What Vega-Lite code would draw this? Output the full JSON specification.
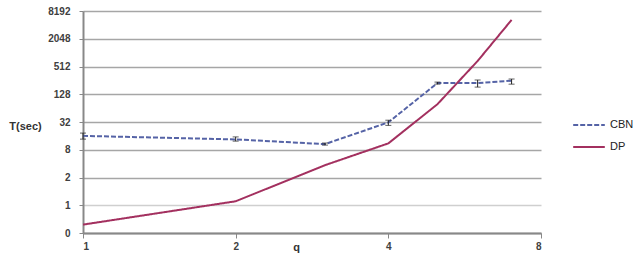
{
  "$schema": "https://vega.github.io/schema/vega-lite/v6.json",
  "width": 458,
  "height": 222,
  "autosize": {"type": "none"},
  "padding": {"left": 83, "top": 11, "right": 99, "bottom": 34},
  "background": "white",
  "config": {
    "view": {"stroke": null},
    "font": "Liberation Sans",
    "legend": {
      "orient": "none",
      "legendX": 489,
      "legendY": 97,
      "title": null,
      "symbolType": "stroke",
      "symbolSize": 1000,
      "symbolStrokeWidth": 2,
      "labelFont": "Liberation Sans",
      "labelFontSize": 11,
      "labelColor": "#222",
      "labelOffset": 4,
      "rowPadding": -2,
      "padding": 0
    }
  },
  "data": {
    "values": [
      {"q": 1, "series": "CBN", "t": 16, "lo": 13.6, "hi": 18.4},
      {"q": 2, "series": "CBN", "t": 13.4, "lo": 12.3, "hi": 15.2},
      {"q": 3, "series": "CBN", "t": 10.6, "lo": 10.1, "hi": 11.2},
      {"q": 4, "series": "CBN", "t": 31.4, "lo": 27, "hi": 35},
      {"q": 5, "series": "CBN", "t": 224, "lo": 212, "hi": 235},
      {"q": 6, "series": "CBN", "t": 224, "lo": 183, "hi": 261},
      {"q": 7, "series": "CBN", "t": 252, "lo": 212, "hi": 274},
      {"q": 1, "series": "DP", "t": 0.19},
      {"q": 2, "series": "DP", "t": 0.61},
      {"q": 3, "series": "DP", "t": 3.7},
      {"q": 4, "series": "DP", "t": 11},
      {"q": 5, "series": "DP", "t": 78},
      {"q": 6, "series": "DP", "t": 675},
      {"q": 7, "series": "DP", "t": 5250}
    ]
  },
  "layer": [
    {
      "mark": {"type": "line", "strokeWidth": 2},
      "encoding": {
        "x": {
          "field": "q",
          "type": "quantitative",
          "scale": {"type": "log", "base": 2, "domain": [1, 8], "nice": false},
          "axis": {
            "values": [1, 2, 4, 8],
            "grid": false,
            "title": "q",
            "titleX": 213,
            "titleY": 14,
            "titleBaseline": "middle",
            "titleFont": "Liberation Sans",
            "titleFontSize": 11,
            "titleFontWeight": "bold",
            "titleColor": "#333",
            "labelFont": "Liberation Sans",
            "labelFontSize": 10,
            "labelFontWeight": "bold",
            "labelColor": "#404040",
            "labelPadding": 3,
            "tickSize": 5,
            "tickColor": "#888",
            "domainColor": "#888",
            "domainWidth": 2,
            "format": "d"
          }
        },
        "y": {
          "field": "t",
          "type": "quantitative",
          "scale": {"type": "log", "base": 4, "domain": [0.125, 8192], "nice": false},
          "axis": {
            "values": [0.125, 0.5, 2, 8, 32, 128, 512, 2048, 8192],
            "labelExpr": "format(round(datum.value), 'd')",
            "grid": true,
            "gridColor": {"condition": {"test": "datum.value === 0.5", "value": "#cfcfcf"}, "value": "#a6a6a6"},
            "gridWidth": 1.5,
            "title": "T(sec)",
            "titleAngle": 0,
            "titleX": -58,
            "titleY": 115,
            "titleAlign": "center",
            "titleBaseline": "middle",
            "titleFont": "Liberation Sans",
            "titleFontSize": 11,
            "titleFontWeight": "bold",
            "titleColor": "#333",
            "labelFont": "Liberation Sans",
            "labelFontSize": 10,
            "labelFontWeight": "bold",
            "labelColor": "#404040",
            "labelPadding": 9,
            "tickSize": 4,
            "tickColor": "#888",
            "domainColor": "#888",
            "domainWidth": 2
          }
        },
        "color": {
          "field": "series",
          "type": "nominal",
          "scale": {"domain": ["CBN", "DP"], "range": ["#5563A6", "#A3305F"]},
          "legend": {"title": null}
        },
        "strokeDash": {
          "field": "series",
          "type": "nominal",
          "scale": {"domain": ["CBN", "DP"], "range": [[5, 2], [1, 0]]},
          "legend": {"title": null}
        }
      }
    },
    {
      "transform": [{"filter": "datum.series === 'CBN'"}],
      "mark": {"type": "errorbar", "ticks": {"size": 6}, "color": "#222", "thickness": 1},
      "encoding": {
        "x": {"field": "q", "type": "quantitative"},
        "y": {"field": "lo", "type": "quantitative", "title": "T(sec)"},
        "y2": {"field": "hi"}
      }
    }
  ]
}
